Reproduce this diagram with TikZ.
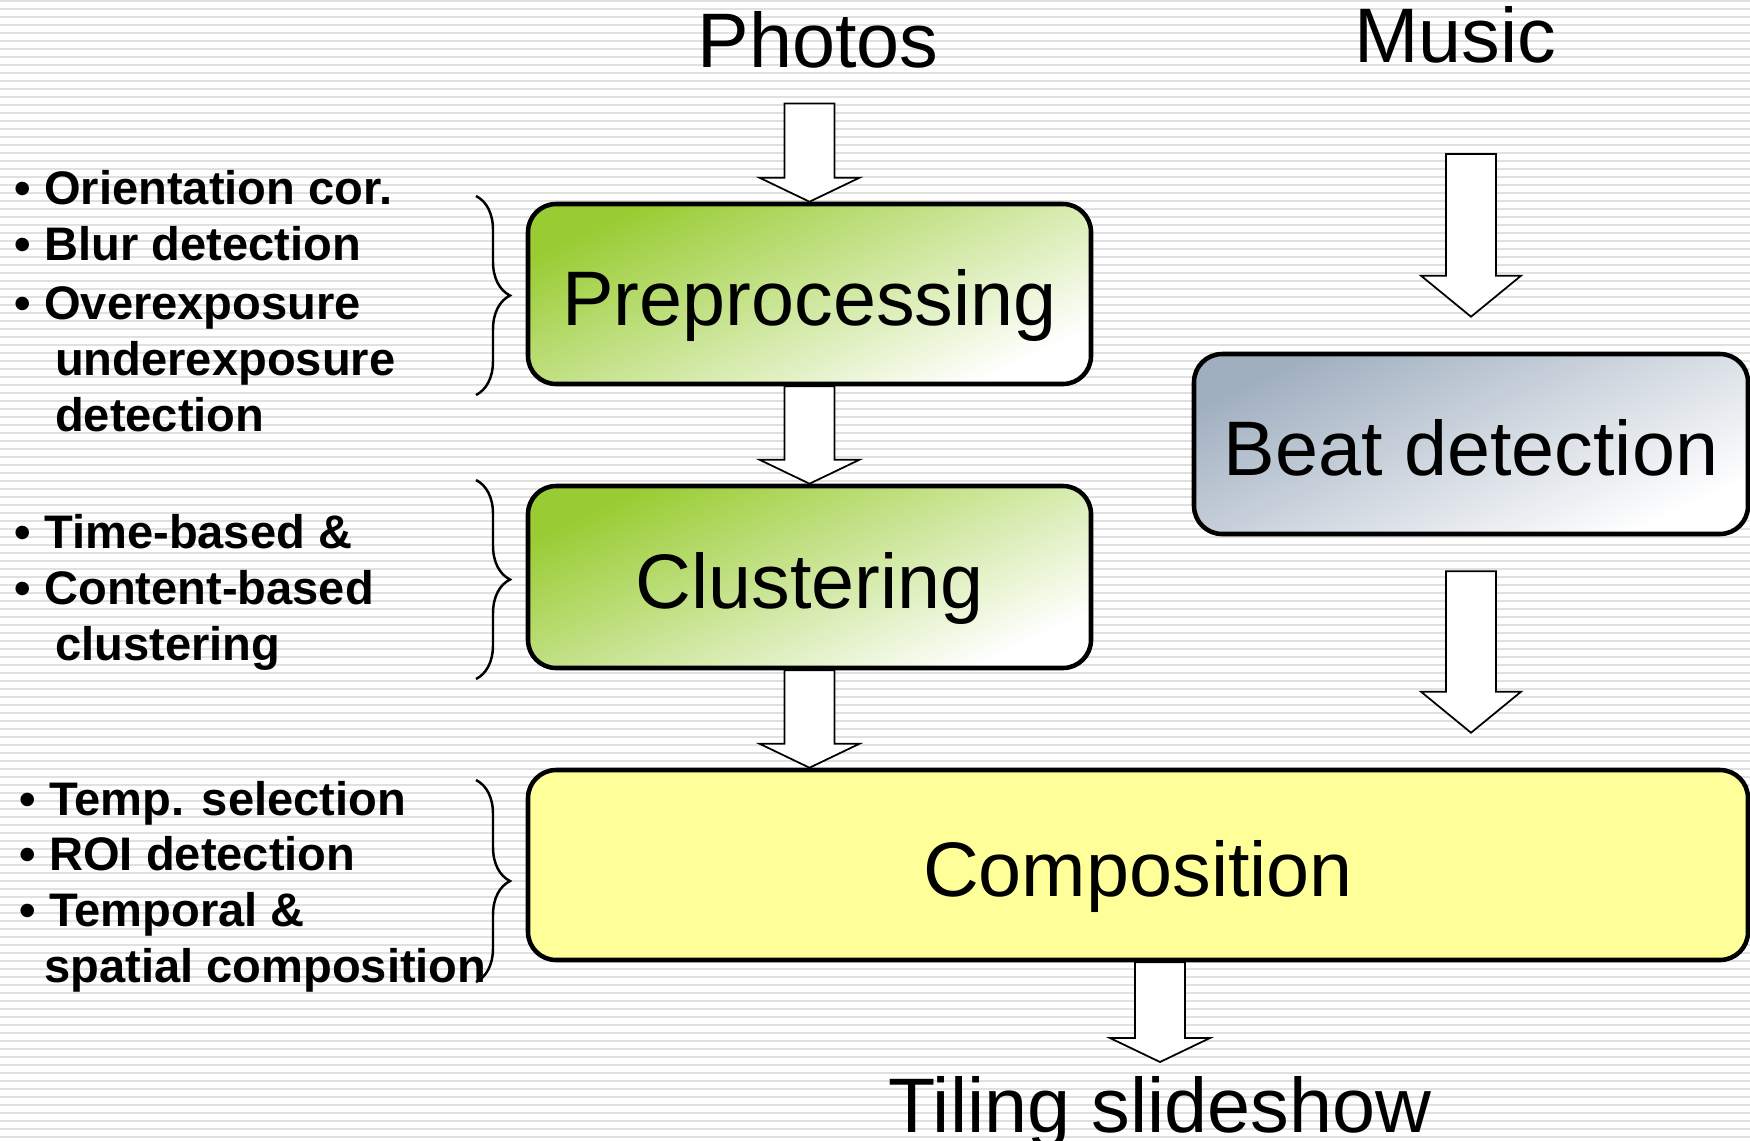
\documentclass[tikz,border=0pt]{standalone}
\usepackage{fontspec}
\setmainfont{Liberation Sans}
\usetikzlibrary{calc}
\usetikzlibrary{decorations.pathreplacing}
\definecolor{boxgreen}{RGB}{153,204,51}
\definecolor{boxgray}{RGB}{160,175,192}
\definecolor{boxyellow}{RGB}{255,255,153}
\definecolor{stripegray}{RGB}{224,224,224}
\tikzset{
  stagebox/.style={draw,line width=1.3pt,rounded corners=8pt,inner sep=0pt,
    text height=18pt,text depth=0pt,font=\fontsize{22}{26}\selectfont},
  greenbox/.style={stagebox,top color=boxgreen,bottom color=white,shading angle=25},
  graybox/.style={stagebox,top color=boxgray,bottom color=white,shading angle=25},
  heading/.style={anchor=base,inner sep=0pt,font=\fontsize{22}{26}\selectfont},
  notes/.style={anchor=base west,align=left,inner sep=0pt,
    font=\fontsize{13.4}{15.8}\selectfont\bfseries},
  bracket/.style={decorate,decoration={brace,amplitude=0.34cm},line width=0.7pt},
  arrowbody/.style={draw=black,fill=white,line width=0.5pt,line join=miter}
}
% hollow down arrow: #2 gives the tail height, #3 the tip
\newcommand{\blockarrow}[3][0.24]{%
  \draw[arrowbody] let \p1=#2, \p2=#3 in
    (\x2-0.25cm,\y1) -- (\x2-0.25cm,\y2+#1cm) -- (\x2-0.5cm,\y2+#1cm)
    -- (\x2,\y2) -- (\x2+0.5cm,\y2+#1cm) -- (\x2+0.25cm,\y2+#1cm)
    -- (\x2+0.25cm,\y1) -- cycle;}
\begin{document}
\begin{tikzpicture}[x=1cm,y=-1cm]
  \useasboundingbox (0,0) rectangle (17.5,11.4);
  \clip (0,0) rectangle (17.5,11.4);
  \fill[white] (0,0) rectangle (17.5,11.4);
  \foreach \y in {0.01,0.09,...,11.4}
    \draw[stripegray,line width=0.018cm] (0,\y) -- (17.5,\y);

  % stages
  \node[greenbox,minimum width=5.63cm,minimum height=1.80cm] (pre) at (8.095,2.94) {Preprocessing};
  \node[greenbox,minimum width=5.63cm,minimum height=1.82cm] (clu) at (8.095,5.77) {Clustering};
  \node[graybox,minimum width=5.54cm,minimum height=1.80cm] (beat) at (14.71,4.44) {Beat detection};
  \node[stagebox,fill=boxyellow,minimum width=12.20cm,minimum height=1.90cm] (comp) at (11.38,8.65) {Composition};

  \node[heading] (photos) at (8.18,0.67) {Photos};
  \node[heading] (music) at (14.55,0.625) {Music};
  \node[heading] (tiling) at (11.60,11.32) {Tiling slideshow};

  % arrows
  \blockarrow{($(photos.south)+(0,0.35)$)}{(pre.north)}
  \blockarrow{(pre.south)}{(clu.north)}
  \blockarrow{(clu.south)}{(comp.north -| clu.south)}
  \blockarrow[0.41]{($(music.south)+(0,0.9)$)}{($(beat.north)+(0,-0.35)$)}
  \blockarrow[0.41]{($(beat.south)+(0,0.35)$)}{($(comp.north -| beat.south)+(0,-0.35)$)}
  \blockarrow{(comp.south -| tiling.north)}{(11.60,10.62)}

  % notes (anchored at the baseline of the last line)
  \node[notes] (prenotes) at (0.14,4.31) {\textbullet\ Orientation cor.\\\textbullet\ Blur detection\\[1.2pt]
    \textbullet\ Overexposure\\\hspace*{11.5pt}underexposure\\\hspace*{11.5pt}detection};
  \node[notes] (clunotes) at (0.14,6.60) {\textbullet\ Time-based \&\\\textbullet\ Content-based\\
    \hspace*{11.5pt}clustering};
  \node[notes] (compnotes) at (0.19,9.82) {\textbullet\ Temp. selection\\\textbullet\ ROI detection\\
    \textbullet\ Temporal \&\\\hspace*{7pt}spatial composition};

  \draw[bracket] (4.76,1.96) -- (4.76,3.95);
  \draw[bracket] (4.76,4.80) -- (4.76,6.79);
  \draw[bracket] (4.76,7.80) -- (4.76,9.82);
\end{tikzpicture}
\end{document}
